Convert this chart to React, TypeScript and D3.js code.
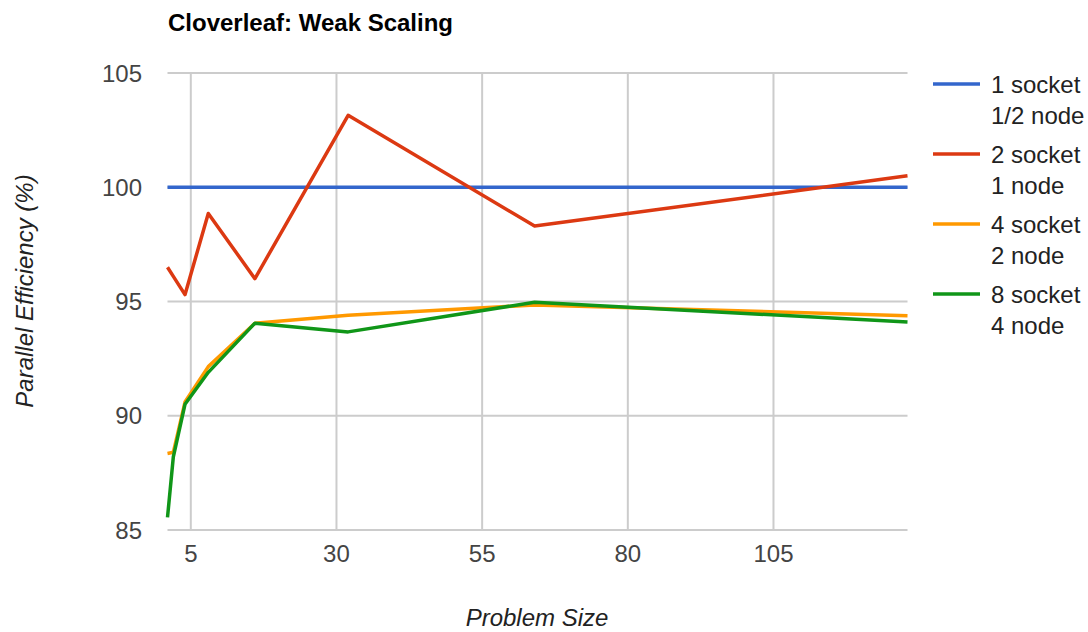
import React from "react";
import * as d3 from "d3";

const problemSizes = [1, 2, 4, 8, 16, 32, 64, 128];
const oneSocket = [100, 100, 100, 100, 100, 100, 100, 100];
const twoSocket = [96.5, 96.1, 95.3, 98.85, 96.0, 103.15, 98.3, 100.5];
const fourSocket = [88.35, 88.4, 90.6, 92.15, 94.05, 94.4, 94.85, 94.38];
const eightSocket = [85.55, 88.2, 90.5, 91.9, 94.05, 93.67, 94.97, 94.1];

const xTicks = [5, 30, 55, 80, 105];
const yTicks = [85, 90, 95, 100, 105];

const seriesNames = [
  ["1 socket", "1/2 node"],
  ["2 socket", "1 node"],
  ["4 socket", "2 node"],
  ["8 socket", "4 node"],
];
const seriesValues = [oneSocket, twoSocket, fourSocket, eightSocket];
const seriesColors = ["#3366cc", "#dc3912", "#ff9900", "#109618"];

const W = 1088;
const H = 632;
const plot = { left: 167.5, right: 907.5, top: 73, bottom: 530 };
const FONT = "Arial, 'Liberation Sans', sans-serif";

export default function App() {
  const x = d3.scaleLinear().domain([1, 128]).range([plot.left, plot.right]);
  const y = d3.scaleLinear().domain([85, 105]).range([plot.bottom, plot.top]);
  const line = d3
    .line<number>()
    .x((_, i) => x(problemSizes[i]))
    .y((d) => y(d));

  return (
    <div style={{ position: "absolute", left: 0, top: 0 }}>
      <svg width={W} height={H} style={{ display: "block", background: "#fff" }}>
        <text x={168} y={31} fontFamily={FONT} fontWeight="bold" fontSize={24} fill="#000">
          Cloverleaf: Weak Scaling
        </text>
        {yTicks.map((t) => (
          <line key={"gy" + t} x1={plot.left} x2={plot.right} y1={y(t)} y2={y(t)} stroke="#cccccc" strokeWidth={2} />
        ))}
        {xTicks.map((t) => (
          <line key={"gx" + t} x1={x(t)} x2={x(t)} y1={plot.top} y2={plot.bottom} stroke="#cccccc" strokeWidth={2} />
        ))}
        {yTicks.map((t) => (
          <text key={"ty" + t} x={142} y={y(t)} dy="0.36em" textAnchor="end" fontFamily={FONT} fontSize={24} fill="#444">
            {t}
          </text>
        ))}
        {xTicks.map((t) => (
          <text key={"tx" + t} x={x(t)} y={553} dy="0.36em" textAnchor="middle" fontFamily={FONT} fontSize={24} fill="#444">
            {t}
          </text>
        ))}
        <text x={537} y={626} textAnchor="middle" fontFamily={FONT} fontStyle="italic" fontSize={24} fill="#222">
          Problem Size
        </text>
        <text
          transform={`translate(24,291) rotate(-90)`}
          dy="0.36em"
          textAnchor="middle"
          fontFamily={FONT}
          fontStyle="italic"
          fontSize={24}
          fill="#222"
        >
          Parallel Efficiency (%)
        </text>
        {seriesValues.map((vals, i) => (
          <path key={"s" + i} d={line(vals) || ""} fill="none" stroke={seriesColors[i]} strokeWidth={3.5} strokeLinejoin="round" />
        ))}
        {seriesNames.map((names, i) => {
          const ly = 84 + i * 70;
          return (
            <g key={"lg" + i}>
              <line x1={933} x2={980} y1={ly} y2={ly} stroke={seriesColors[i]} strokeWidth={3.5} />
              <text x={991} y={ly} dy="0.36em" fontFamily={FONT} fontSize={24} fill="#222">
                {names[0]}
              </text>
              <text x={991} y={ly + 31} dy="0.36em" fontFamily={FONT} fontSize={24} fill="#222">
                {names[1]}
              </text>
            </g>
          );
        })}
      </svg>
    </div>
  );
}
